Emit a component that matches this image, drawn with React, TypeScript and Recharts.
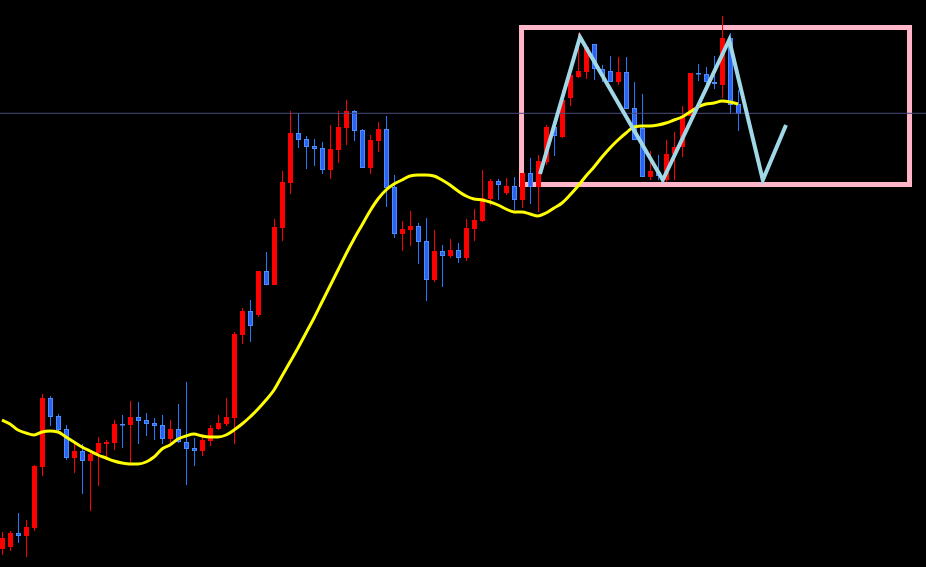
import { ComposedChart, Bar, Line, XAxis, YAxis, ReferenceLine, ReferenceArea } from 'recharts'

// [open, high, low, close]
const candles: [number, number, number, number][] = [
  [105.1, 106.8, 104.5, 106.2], [105.3, 106.9, 104.9, 106.7], [106.7, 108.7, 105.7, 106.4], [106.4, 108.0, 104.3, 107.3],
  [107.2, 113.5, 106.9, 113.4], [113.3, 120.6, 112.4, 120.2], [120.2, 120.4, 117.4, 118.3], [118.4, 118.6, 116.8, 117.0],
  [117.1, 117.5, 114.0, 114.2], [114.2, 115.6, 112.7, 114.9], [114.9, 115.6, 110.6, 113.9], [113.9, 115.0, 108.9, 114.6],
  [114.7, 116.3, 111.4, 115.7], [115.6, 116.0, 114.0, 115.8], [115.7, 118.0, 115.0, 117.6], [117.6, 118.5, 115.2, 117.5],
  [117.5, 119.9, 113.6, 118.3], [118.3, 119.8, 115.6, 117.9], [118.0, 118.7, 116.4, 117.6], [117.7, 118.2, 116.0, 117.4],
  [117.5, 118.5, 115.6, 116.1], [116.1, 118.0, 115.7, 117.1], [117.1, 119.6, 115.7, 115.8], [115.8, 121.8, 111.5, 115.1],
  [115.2, 116.2, 113.4, 114.9], [114.9, 116.6, 114.4, 116.0], [115.9, 117.5, 115.4, 117.2], [117.1, 118.5, 117.0, 117.7],
  [117.6, 120.2, 117.4, 118.3], [118.2, 126.8, 115.6, 126.6], [126.5, 129.2, 125.6, 128.9], [128.9, 130.0, 125.8, 127.4],
  [128.5, 132.9, 128.3, 132.9], [132.9, 134.8, 131.5, 131.5], [131.5, 138.1, 131.5, 137.3], [137.2, 142.9, 135.9, 141.8],
  [141.7, 148.9, 140.6, 146.7], [146.7, 148.7, 145.2, 146.0], [146.1, 146.4, 143.1, 145.3], [145.4, 146.1, 143.4, 145.1],
  [145.2, 145.8, 142.6, 143.0], [143.0, 147.5, 142.1, 145.1], [145.0, 148.9, 143.7, 147.3], [147.2, 150.0, 145.5, 148.9],
  [148.9, 149.0, 145.9, 146.9], [147.0, 147.1, 143.2, 143.2], [143.2, 146.5, 142.6, 146.0], [145.9, 147.8, 144.8, 147.1],
  [147.1, 148.4, 139.3, 141.2], [141.3, 142.5, 136.2, 136.6], [136.6, 137.9, 134.9, 137.1], [137.0, 138.9, 135.4, 137.4],
  [137.4, 137.7, 133.6, 135.8], [135.9, 138.2, 129.9, 132.0], [132.0, 137.0, 131.8, 134.9], [134.9, 135.5, 131.3, 134.4],
  [134.4, 136.1, 134.2, 135.0], [135.0, 135.7, 133.7, 134.2], [134.2, 138.1, 133.9, 137.2], [137.1, 139.1, 135.9, 138.0],
  [137.9, 143.0, 137.8, 140.2], [140.1, 142.1, 139.4, 141.9], [141.9, 142.1, 140.0, 141.5], [140.7, 142.2, 140.5, 141.4],
  [141.4, 142.3, 139.0, 140.0], [140.0, 142.7, 139.2, 142.7], [142.7, 144.2, 139.6, 141.3], [141.3, 144.5, 138.8, 143.9],
  [143.8, 147.5, 143.5, 147.3], [147.3, 147.6, 144.4, 146.4], [146.3, 151.0, 146.2, 150.0], [150.2, 153.0, 149.4, 152.5],
  [152.3, 156.7, 152.2, 152.9], [152.8, 155.5, 152.1, 155.3], [155.6, 155.6, 152.0, 153.1], [153.1, 153.5, 151.8, 152.4],
  [152.9, 154.4, 151.8, 151.8], [151.8, 154.3, 151.5, 152.8], [152.8, 154.3, 149.1, 149.1], [149.2, 151.8, 146.0, 146.0],
  [147.2, 150.6, 142.3, 142.3], [142.3, 144.9, 142.0, 142.9], [142.8, 144.5, 142.0, 142.4], [142.0, 146.0, 141.8, 144.6],
  [144.6, 146.8, 142.0, 145.3], [145.3, 149.4, 144.3, 148.4], [148.4, 152.7, 148.4, 152.7], [152.7, 153.6, 151.9, 152.6],
  [152.6, 153.3, 151.4, 151.8], [151.8, 154.4, 151.1, 151.6], [151.5, 158.4, 150.2, 156.2], [156.2, 156.7, 148.6, 149.5],
  [149.6, 151.0, 146.9, 148.6],
]

const movingAverage = [
  118.0, 117.6, 117.0, 116.7, 116.5, 116.8, 116.9, 116.8, 116.3, 115.8,
  115.3, 114.9, 114.5, 114.2, 113.9, 113.7, 113.6, 113.6, 113.8, 114.3,
  115.1, 115.5, 116.1, 116.4, 116.6, 116.4, 116.3, 116.3, 116.5, 117.0,
  117.6, 118.3, 119.1, 120.0, 121.0, 122.4, 123.8, 125.2, 126.7, 128.2,
  129.8, 131.4, 133.0, 134.6, 136.1, 137.5, 138.9, 140.1, 141.0, 141.6,
  142.0, 142.4, 142.5, 142.5, 142.4, 142.0, 141.5, 140.9, 140.4, 140.1,
  140.0, 139.8, 139.5, 139.1, 138.8, 138.8, 138.6, 138.4, 138.7, 139.2,
  139.7, 140.5, 141.4, 142.4, 143.3, 144.3, 145.2, 146.0, 146.7, 147.3,
  147.4, 147.4, 147.5, 147.7, 148.0, 148.3, 148.8, 149.3, 149.6, 149.7,
  149.9, 149.8, 149.6,
]

// double top sketch: bar position and price
const zigzagBar = [67.25, 72.25, 82.6, 90.9, 95.1, 98]
const zigzagPrice = [142.6, 156.3, 142.0, 156.0, 142.0, 147.5]

const resistance = 148.67
const boxBars = [64.94, 113.44]
const boxPrices = [141.55, 157.25]

const SLOTS = 116

const data = Array.from({ length: SLOTS }, (_, i) => {
  const c = candles[i]
  return {
    i,
    open: c ? c[0] : null,
    high: c ? c[1] : null,
    low: c ? c[2] : null,
    close: c ? c[3] : null,
    ma: movingAverage[i] ?? null,
  }
})

const zigzag = zigzagBar.map((b, k) => ({ b, p: zigzagPrice[k] }))

function Candle(props: any) {
  const { x, y, width, height, payload } = props
  if (!payload || payload.open == null) return null
  const { open, high, low, close } = payload
  const up = close >= open
  const span = high - low
  const k = span > 0 ? height / span : 0
  const py = (v: number) => y + (high - v) * k
  const cx = Math.floor(x + width / 2) + 0.5
  const top = py(Math.max(open, close))
  const bottom = py(Math.min(open, close))
  return (
    <g>
      <line x1={cx} x2={cx} y1={y} y2={y + height} stroke={up ? '#ff0000' : '#1f7bff'} strokeWidth={1} />
      {up ? (
        <rect x={cx - 2.5} y={top} width={5} height={Math.max(1, bottom - top)} fill="#ff0000" />
      ) : (
        <rect
          x={cx - 2}
          y={top + 0.5}
          width={4}
          height={Math.max(0.5, bottom - top - 1)}
          fill="#2b63f0"
          stroke="#4a8dff"
          strokeWidth={1}
        />
      )}
    </g>
  )
}

export default function App() {
  return (
    <>
      <style>{'html,body{margin:0;background:#000}'}</style>
      <div style={{ position: 'fixed', left: -2, top: 0, width: 928, height: 567, background: '#000', overflow: 'hidden' }}>
        <ComposedChart width={928} height={567} data={data} margin={{ top: 0, right: 0, bottom: 0, left: 0 }}>
          <XAxis hide dataKey="i" type="category" />
          <XAxis hide xAxisId="z" dataKey="b" type="number" domain={[-0.5, SLOTS - 0.5]} allowDataOverflow />
          <YAxis hide domain={[103.3, 160]} allowDataOverflow />
          <ReferenceLine y={resistance} stroke="#4b4b7d" strokeWidth={1} />
          <Bar
            dataKey={(d: any) => (d.open == null ? null : [d.low, d.high])}
            barSize={5}
            shape={<Candle />}
            isAnimationActive={false}
          />
          <Line
            dataKey="ma"
            type="monotone"
            stroke="#ffff00"
            strokeWidth={3}
            dot={false}
            activeDot={false}
            isAnimationActive={false}
          />
          <ReferenceArea
            xAxisId="z"
            x1={boxBars[0]}
            x2={boxBars[1]}
            y1={boxPrices[0]}
            y2={boxPrices[1]}
            fill="none"
            stroke="#ffb6c8"
            strokeWidth={5}
            ifOverflow="visible"
          />
          <Line
            xAxisId="z"
            data={zigzag}
            dataKey="p"
            type="linear"
            stroke="#a0d8e8"
            strokeWidth={4}
            dot={false}
            activeDot={false}
            isAnimationActive={false}
          />
        </ComposedChart>
      </div>
    </>
  )
}
